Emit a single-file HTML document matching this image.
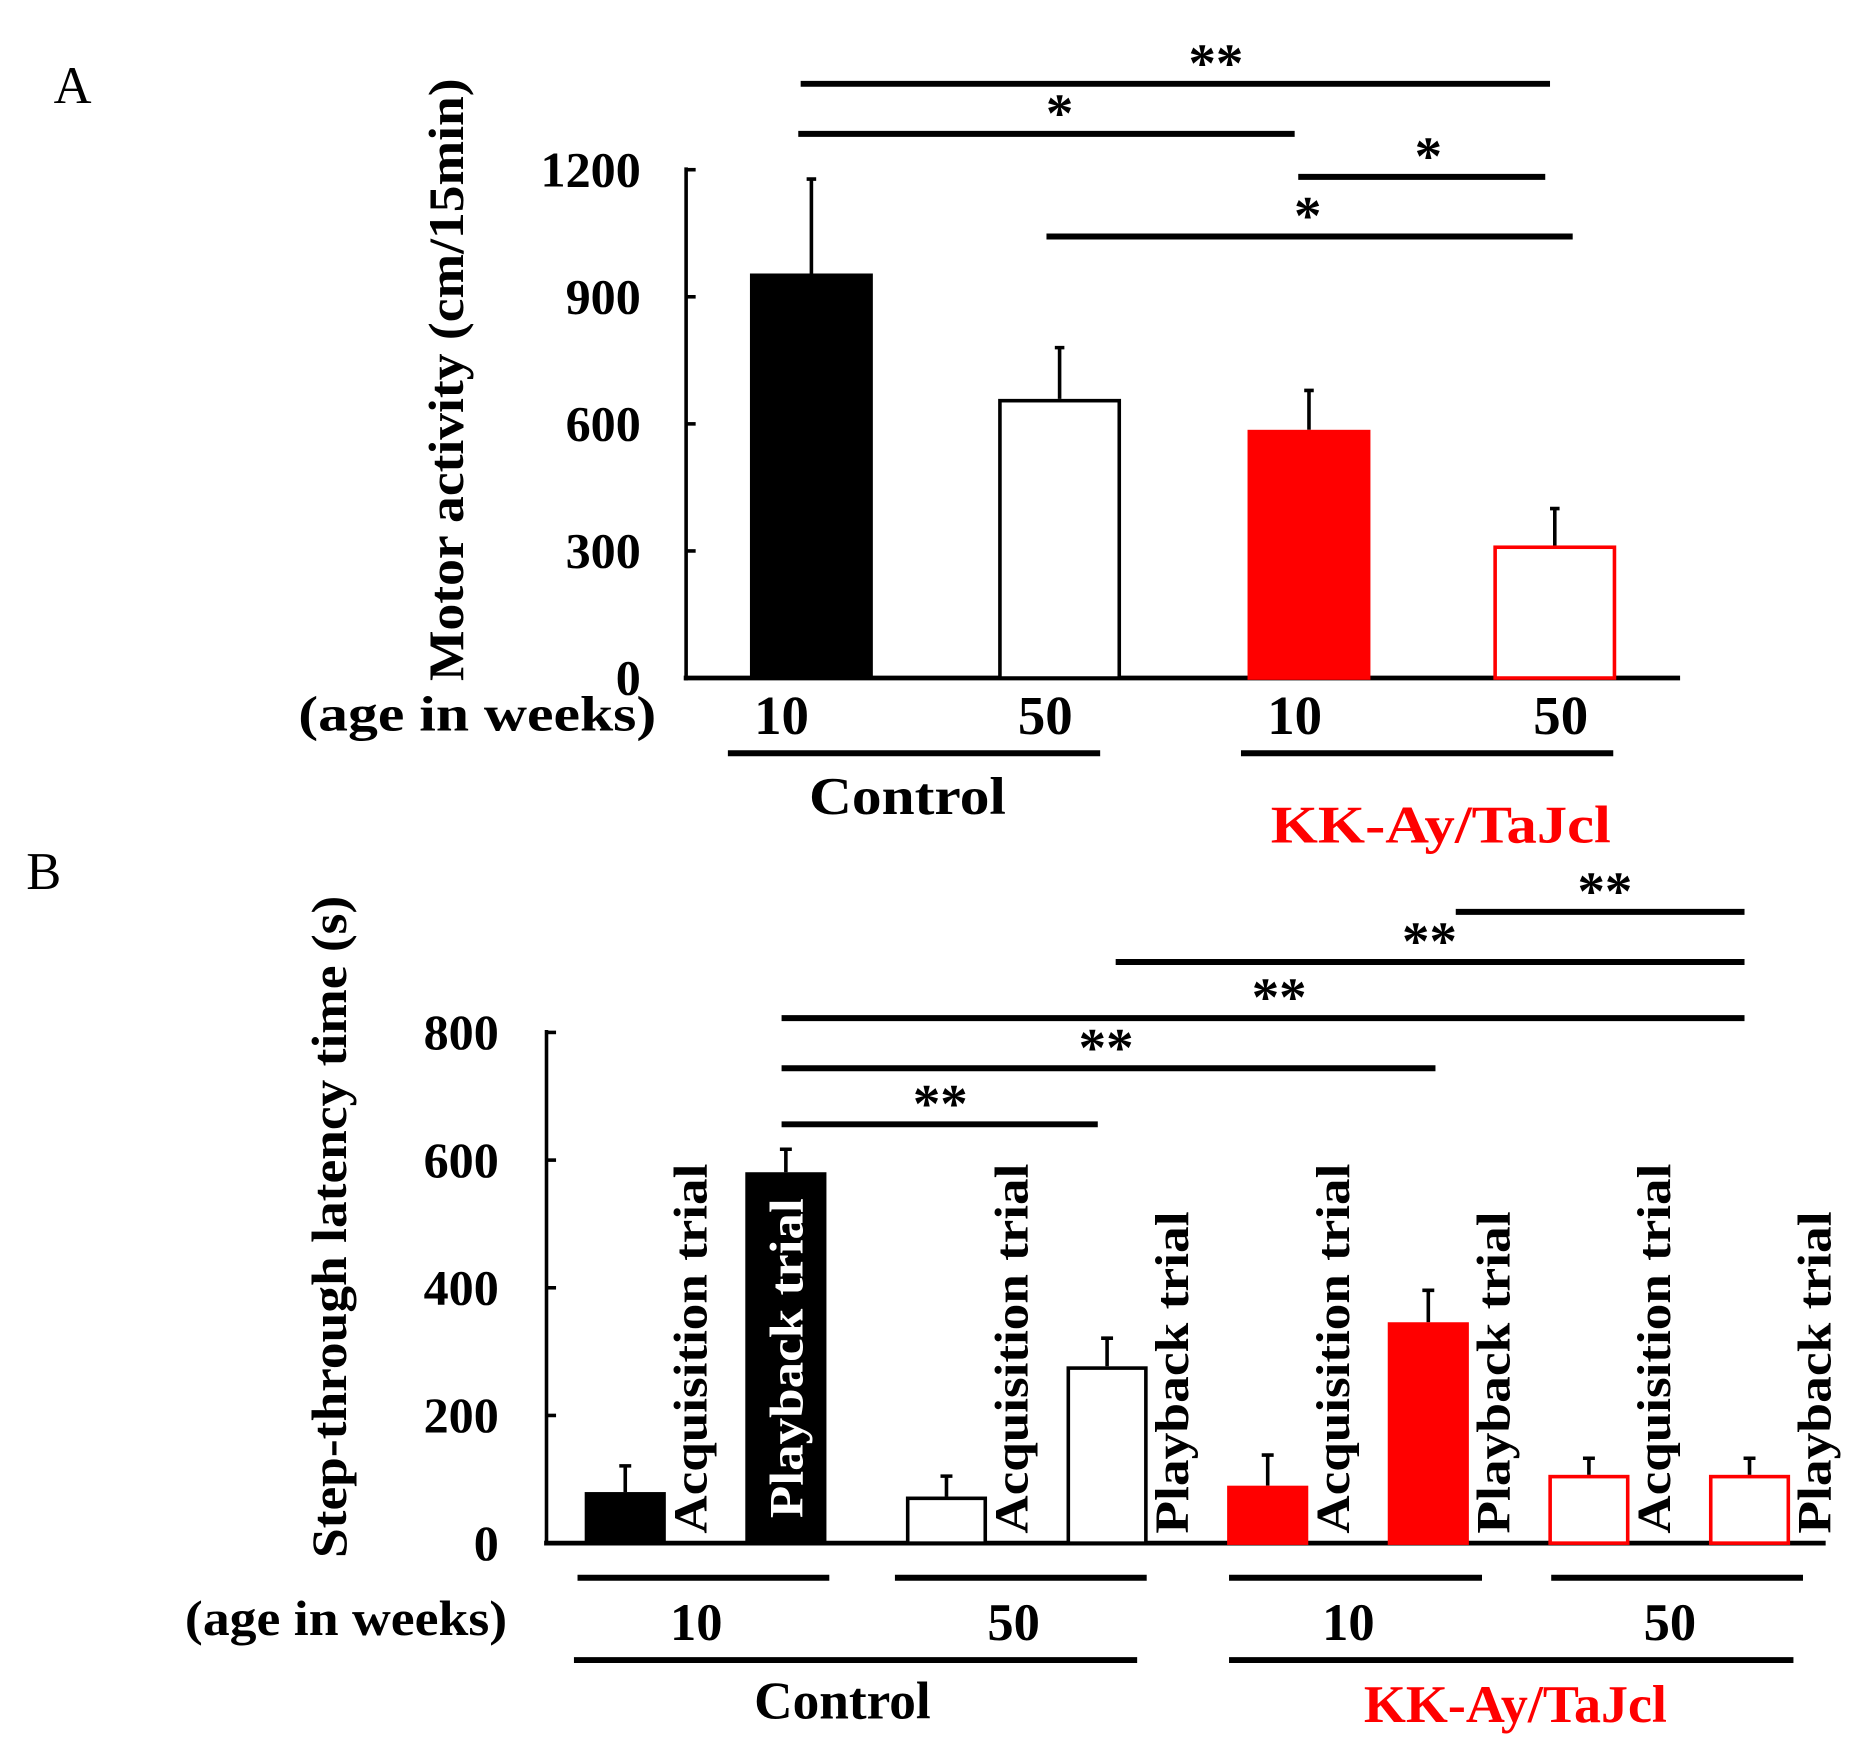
<!DOCTYPE html>
<html><head><meta charset="utf-8"><style>
html,body{margin:0;padding:0;background:#fff;}
svg{display:block;font-family:"Liberation Serif",serif;font-weight:bold;}
</style></head><body>
<svg id="chart" width="1871" height="1757" viewBox="0 0 1568 1472" xmlns="http://www.w3.org/2000/svg">
<rect width="1568" height="1472" fill="#fff"/>
<g id="A"></g>
<g id="B"></g>
</svg>
<script>
// Panel A data
const aCats = ["Control 10", "Control 50", "KK-Ay 10", "KK-Ay 50"];
const aValues = [955, 659, 586, 313];
const aErrors = [223, 121, 93, 87];
const aTicks = [0, 300, 600, 900, 1200];
const aAges = ["10", "50", "10", "50"];
// Panel B data
const bCats = ["C10 acq", "C10 play", "C50 acq", "C50 play", "K10 acq", "K10 play", "K50 acq", "K50 play"];
const bValues = [80, 581, 73, 277, 90, 346, 107, 107];
const bErrors = [41, 36, 32, 44, 48, 50, 26, 26];
const bTicks = [0, 200, 400, 600, 800];
const bAges = ["10", "50", "10", "50"];

const NS = "http://www.w3.org/2000/svg";
function mk(parent, tag, attrs, text) {
  const e = document.createElementNS(NS, tag);
  for (const k in attrs) e.setAttribute(k, attrs[k]);
  if (text !== undefined) e.textContent = text;
  parent.appendChild(e);
  return e;
}
const RED = "#ff0000";

// ---------- Panel A ----------
(function(){
  const g = document.getElementById("A");
  const y0 = 568, yTop = 142, vMax = 1200;
  const yA = v => y0 - (v / vMax) * (y0 - yTop);
  const xCenters = [680, 888, 1097, 1303];
  const labelShift = [-25, -12, -12, 5];
  const bw = 103;
  let t = mk(g, "text", {x: 45, y: 86, "font-size": 44, "font-weight": "normal"}, "A");
  
  
  let ax = mk(g, "line", {x1: 575, y1: yTop - 2, x2: 575, y2: y0 + 2, stroke: "#000", "stroke-width": 3});
  
  
  ax = mk(g, "line", {x1: 573, y1: y0, x2: 1408, y2: y0, stroke: "#000", "stroke-width": 4});
  
  
  aTicks.forEach(v => {
    const tk = mk(g, "line", {x1: 575, y1: yA(v), x2: 583, y2: yA(v), stroke: "#000", "stroke-width": 3});
    
    
    const tl = mk(g, "text", {x: 537, y: yA(v) + 14, "font-size": 42, "text-anchor": "end"}, String(v));
    
    
  });
  t = mk(g, "text", {x: 0, y: 0, "font-size": 42, "text-anchor": "middle", textLength: 505, lengthAdjust: "spacingAndGlyphs", transform: "translate(388,318) rotate(-90)"}, "Motor activity (cm/15min)");
  
  
  const fills = ["#000", "#fff", RED, "#fff"], strokes = ["#000", "#000", RED, RED];
  aValues.forEach((v, i) => {
    const xc = xCenters[i];
    const eb = mk(g, "path", {d: `M${xc},${yA(v)} V${yA(v + aErrors[i])} M${xc - 4},${yA(v + aErrors[i])} H${xc + 4}`, stroke: "#000", "stroke-width": 3, fill: "none"});
    
    
    const b = mk(g, "rect", {x: xc - bw / 2 + 1.5, y: yA(v) + 1.5, width: bw - 3, height: y0 - yA(v) - 1.5, fill: fills[i], stroke: strokes[i], "stroke-width": 3});
    
    
    const al = mk(g, "text", {x: xc + labelShift[i], y: 615, "font-size": 46, "text-anchor": "middle"}, aAges[i]);
    
    
  });
  t = mk(g, "text", {x: 250, y: 612, "font-size": 42, textLength: 300, lengthAdjust: "spacingAndGlyphs"}, "(age in weeks)");
  
  
  [[610, 922], [1040, 1352]].forEach(s => {
    const l = mk(g, "line", {x1: s[0], y1: 631, x2: s[1], y2: 631, stroke: "#000", "stroke-width": 5});
    
    
  });
  t = mk(g, "text", {x: 678, y: 682, "font-size": 44, textLength: 165, lengthAdjust: "spacingAndGlyphs"}, "Control");
  
  
  t = mk(g, "text", {x: 1065, y: 706, "font-size": 44, fill: RED, textLength: 285, lengthAdjust: "spacingAndGlyphs"}, "KK-Ay/TaJcl");
  
  
  [[70, 671, 1299, "**", 1019], [112, 669, 1085, "*", 888], [148, 1088, 1295, "*", 1197], [198, 877, 1318, "*", 1096]].forEach(s => {
    const l = mk(g, "line", {x1: s[1], y1: s[0], x2: s[2], y2: s[0], stroke: "#000", "stroke-width": 5});
    
    
    const st = mk(g, "text", {x: s[4], y: s[0] - 2, "font-size": 46, "text-anchor": "middle"}, s[3]);
    
    
  });
})();

// ---------- Panel B ----------
(function(){
  const g = document.getElementById("B");
  const y0 = 1293, yTop = 865, vMax = 800;
  const yB = v => y0 - (v / vMax) * (y0 - yTop);
  const x0 = 524, step = 134.6, bw = 68;
  const xB = i => x0 + i * step;
  let t = mk(g, "text", {x: 22, y: 745, "font-size": 44, "font-weight": "normal"}, "B");
  
  
  let ax = mk(g, "line", {x1: 458, y1: yTop - 2, x2: 458, y2: y0 + 2, stroke: "#000", "stroke-width": 3});
  
  
  ax = mk(g, "line", {x1: 456, y1: y0, x2: 1530, y2: y0, stroke: "#000", "stroke-width": 4});
  
  
  bTicks.forEach(v => {
    const tk = mk(g, "line", {x1: 458, y1: yB(v), x2: 466, y2: yB(v), stroke: "#000", "stroke-width": 3});
    
    
    const tl = mk(g, "text", {x: 418, y: yB(v) + 14, "font-size": 42, "text-anchor": "end"}, String(v));
    
    
  });
  t = mk(g, "text", {x: 0, y: 0, "font-size": 42, "text-anchor": "middle", textLength: 555, lengthAdjust: "spacingAndGlyphs", transform: "translate(290,1028) rotate(-90)"}, "Step-through latency time (s)");
  
  
  const fills = ["#000", "#000", "#fff", "#fff", RED, RED, "#fff", "#fff"];
  const strokes = ["#000", "#000", "#000", "#000", RED, RED, RED, RED];
  bValues.forEach((v, i) => {
    const xc = xB(i);
    const eb = mk(g, "path", {d: `M${xc},${yB(v)} V${yB(v + bErrors[i])} M${xc - 5},${yB(v + bErrors[i])} H${xc + 5}`, stroke: "#000", "stroke-width": 3, fill: "none"});
    
    
    const b = mk(g, "rect", {x: xc - bw / 2 + 1.5, y: yB(v) + 1.5, width: bw - 3, height: y0 - yB(v) - 1.5, fill: fills[i], stroke: strokes[i], "stroke-width": 3});
    
    
    const isAcq = i % 2 === 0;
    let lx, ly, col = "#000", len;
    if (isAcq) { lx = xc + 68; ly = 1285; len = 310; }
    else if (i === 1) { lx = xc + 14; ly = 1272; len = 268; col = "#fff"; }
    else { lx = xc + 68; ly = 1285; len = 270; }
    const lab = mk(g, "text", {x: 0, y: 0, "font-size": 40, fill: col, textLength: len, lengthAdjust: "spacingAndGlyphs", transform: `translate(${lx},${ly}) rotate(-90)`}, isAcq ? "Acquisition trial" : "Playback trial");
    
    
  });
  [[484, 695], [750, 961], [1030, 1242], [1300, 1511]].forEach((s, i) => {
    const l = mk(g, "line", {x1: s[0], y1: 1322, x2: s[1], y2: 1322, stroke: "#000", "stroke-width": 5});
    
    
    const al = mk(g, "text", {x: (s[0] + s[1]) / 2 - 6, y: 1374, "font-size": 44, "text-anchor": "middle"}, bAges[i]);
    
    
  });
  t = mk(g, "text", {x: 155, y: 1370, "font-size": 42, textLength: 270, lengthAdjust: "spacingAndGlyphs"}, "(age in weeks)");
  
  
  [[481, 953], [1030, 1503]].forEach(s => {
    const l = mk(g, "line", {x1: s[0], y1: 1391, x2: s[1], y2: 1391, stroke: "#000", "stroke-width": 5});
    
    
  });
  t = mk(g, "text", {x: 632, y: 1440, "font-size": 44, textLength: 148, lengthAdjust: "spacingAndGlyphs"}, "Control");
  
  
  t = mk(g, "text", {x: 1143, y: 1443, "font-size": 44, fill: RED, textLength: 254, lengthAdjust: "spacingAndGlyphs"}, "KK-Ay/TaJcl");
  
  
  [[942, 655, 920, 788], [895, 655, 1203, 927], [853, 655, 1462, 1072], [806, 935, 1462, 1198], [764, 1220, 1462, 1345]].forEach(s => {
    const l = mk(g, "line", {x1: s[1], y1: s[0], x2: s[2], y2: s[0], stroke: "#000", "stroke-width": 5});
    
    
    const st = mk(g, "text", {x: s[3], y: s[0] - 2, "font-size": 46, "text-anchor": "middle"}, "**");
    
    
  });
})();
</script>
</body></html>
